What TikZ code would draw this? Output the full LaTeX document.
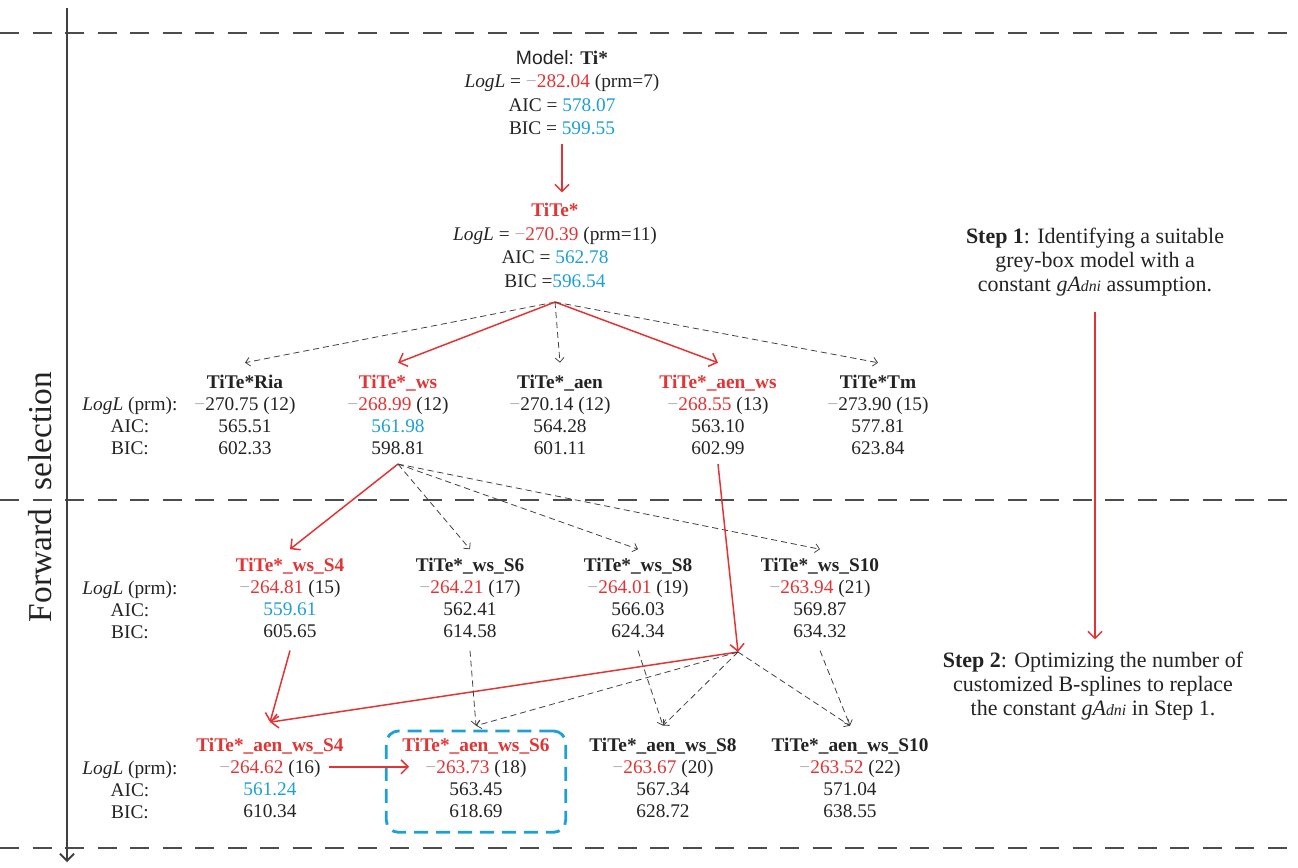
\documentclass[tikz,border=0pt]{standalone}
\usepackage{fontspec}
\setmainfont{Liberation Serif}
\newfontfamily\arialfont{Liberation Sans}
\usetikzlibrary{arrows.meta,fit}

\definecolor{selred}{RGB}{226,52,52}
\definecolor{selblue}{RGB}{30,160,212}
\definecolor{seltext}{RGB}{35,35,35}
\definecolor{selminus}{RGB}{175,175,175}

\newcommand{\mn}{{\color{selminus}−}}
\newcommand{\gadni}{\textit{gA{\fontsize{9}{10}\selectfont dni}}}

\tikzset{
  model/.style={align=center,anchor=north,inner sep=0pt,text=seltext,font=\fontsize{11}{12.5}\selectfont},
  topmodel/.style={model,font=\fontsize{11}{13.4}\selectfont},
  steptext/.style={align=center,inner sep=0pt,text=seltext,font=\fontsize{12.5}{13.6}\selectfont},
  redarr/.style={draw=selred,line width=0.85pt,-{Straight Barb[length=4pt,width=8pt]}},
  dasharr/.style={draw=black!75,line width=0.45pt,dash pattern=on 3.5pt off 2.2pt,-{Straight Barb[length=2.5pt,width=5pt]}},
  sepline/.style={draw=black!70,line width=0.7pt,dash pattern=on 11pt off 7.5pt},
  axis/.style={draw=black!75,line width=1.1pt,-{Straight Barb[length=4pt,width=8pt]}},
  hlbox/.style={draw=selblue,line width=1.6pt,dash pattern=on 8pt off 4.5pt,rounded corners=7pt,inner xsep=9pt,inner ysep=6pt},
}

\begin{document}
\begin{tikzpicture}[x=0.02cm,y=-0.02cm]
  \useasboundingbox (0,0) rectangle (1298,868);

  % frame: stage separators and the selection axis
  \foreach \y in {33,500,848}
    \draw[sepline] (0,\y) -- (1298,\y);
  \draw[axis] (67,8) -- (67,862);
  \node[rotate=90,text=seltext,font=\fontsize{19}{22}\selectfont] (fwd) at (40,497) {Forward\hspace{0.55em}selection};

  % base models
  \node[topmodel] (ti) at (562,50) {{\arialfont Model:} \textbf{Ti*}\\\textit{LogL} = \mn{\color{selred}282.04} (prm=7)\\AIC = {\color{selblue}578.07}\\BIC = {\color{selblue}599.55}};
  \node[topmodel] (tite) at (555,203) {{\color{selred}\textbf{TiTe*}}\\\textit{LogL} = \mn{\color{selred}270.39} (prm=11)\\AIC = {\color{selblue}562.78}\\BIC ={\color{selblue}596.54}};

  % row labels
  \foreach \nm/\y in {lab2/397,lab3/581,lab4/761}
    \node[model] (\nm) at (130,\y) {\textit{LogL} (prm):\\AIC:\\BIC:};

  % candidate models, one row per stage
  \foreach \nm/\x/\y/\ttl/\tc/\ll/\lc/\np/\ac/\aic/\bic in {
    ria/245/375/TiTe*Ria/seltext/270.75/seltext/12/seltext/565.51/602.33,
    ws/398/375/TiTe*\_ws/selred/268.99/selred/12/selblue/561.98/598.81,
    aen/560/375/TiTe*\_aen/seltext/270.14/seltext/12/seltext/564.28/601.11,
    aenws/718/375/TiTe*\_aen\_ws/selred/268.55/selred/13/seltext/563.10/602.99,
    tm/878/375/TiTe*Tm/seltext/273.90/seltext/15/seltext/577.81/623.84,
    wss4/290/558/TiTe*\_ws\_S4/selred/264.81/selred/15/selblue/559.61/605.65,
    wss6/470/558/TiTe*\_ws\_S6/seltext/264.21/selred/17/seltext/562.41/614.58,
    wss8/638/558/TiTe*\_ws\_S8/seltext/264.01/selred/19/seltext/566.03/624.34,
    wss10/820/558/TiTe*\_ws\_S10/seltext/263.94/selred/21/seltext/569.87/634.32,
    aens4/270/738/TiTe*\_aen\_ws\_S4/selred/264.62/selred/16/selblue/561.24/610.34,
    aens6/476/738/TiTe*\_aen\_ws\_S6/selred/263.73/selred/18/seltext/563.45/618.69,
    aens8/663/738/TiTe*\_aen\_ws\_S8/seltext/263.67/selred/20/seltext/567.34/628.72,
    aens10/850/738/TiTe*\_aen\_ws\_S10/seltext/263.52/selred/22/seltext/571.04/638.55}
    \node[model] (\nm) at (\x,\y) {{\color{\tc}\textbf{\ttl}}\\\mn{\color{\lc}\ll} (\np)\\{\color{\ac}\aic}\\\bic};

  \node[hlbox,fit=(aens6),yshift=-2pt] (best) {};
  \coordinate (jn) at (738,652);

  % selection paths
  \draw[redarr] ([yshift=-5pt]ti.south) -- ([yshift=6pt]ti.south |- tite.north);
  \foreach \t/\s in {ria/dasharr,ws/redarr,aen/dasharr,aenws/redarr,tm/dasharr}
    \draw[\s] ([yshift=-8pt]tite.south) -- ([yshift=7pt]\t.north);
  \foreach \t/\s in {wss4/redarr,wss6/dasharr,wss8/dasharr,wss10/dasharr}
    \draw[\s] ([yshift=-5pt]ws.south) -- ([yshift=5pt]\t.north);
  \draw[redarr] ([yshift=-5pt]aenws.south) -- (jn);
  \draw[redarr] ([yshift=-7pt]wss4.south) -- ([yshift=9pt]aens4.north);
  \draw[redarr] (jn) -- ([yshift=9pt]aens4.north);
  \foreach \s/\t in {wss6/aens6,wss8/aens8,wss10/aens10}{
    \draw[dasharr] ([yshift=-7pt]\s.south) -- ([yshift=7pt]\t.north);
    \draw[dasharr] (jn) -- ([yshift=7pt]\t.north);
  }
  \draw[redarr] ([xshift=-8.5pt,yshift=-16.4pt]aens4.north east) -- ([xshift=4pt,yshift=-16.4pt]aens6.north west);

  % steps
  \node[steptext] (step1) at (1095,262) {\textbf{Step 1}: Identifying a suitable\\grey-box model with a\\constant \gadni{} assumption.};
  \node[steptext] (step2) at (1093,686) {\textbf{Step 2}: Optimizing the number of\\customized B-splines to replace\\the constant \gadni{} in Step 1.};
  \draw[redarr] ([yshift=-9pt]step1.south) -- ([yshift=7pt]step1.south |- step2.north);
\end{tikzpicture}
\end{document}
